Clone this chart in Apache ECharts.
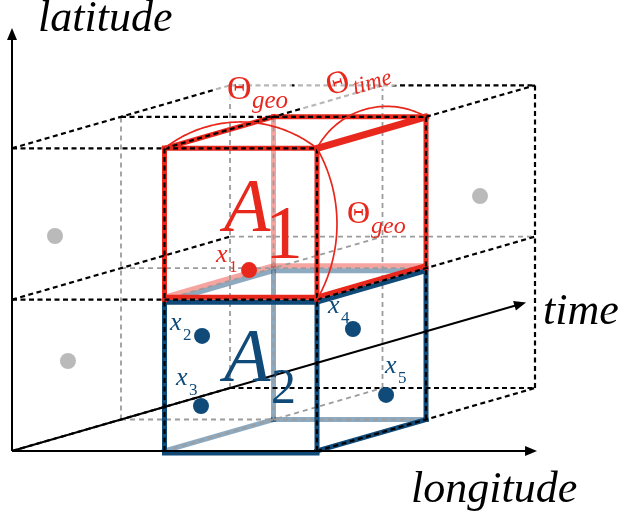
<!DOCTYPE html>
<html>
<head>
<meta charset="utf-8">
<script src="https://cdn.jsdelivr.net/npm/echarts@6/dist/echarts.min.js"></script>
<style>
html,body{margin:0;padding:0;background:#fff;}
#chart{width:621px;height:524px;}
</style>
</head>
<body>
<div id="chart"></div>
<script>
// ---------------- DATA (lattice units: [longitude, latitude, time]) ----------------
const outerDashedEdges = [
  [[0,2,0],[1,2,0]], [[1,2,0],[2,2,0]],
  [[0,1,0],[1,1,0]], [[1,1,0],[2,1,0]],
  [[1,0,0],[1,2,0]], [[2,0,0],[2,2,0]],
  [[0,2,1],[2,2,1]], [[2,0,1],[2,2,1]],
  [[0,2,2],[2,2,2]], [[0,0,2],[2,0,2]], [[2,0,2],[2,2,2]],
  [[0,2,0],[0,2,2]], [[0,1,0],[0,1,2]], [[0,0,0],[0,0,2]],
  [[1,2,0],[1,2,2]], [[2,2,1],[2,2,2]],
  [[2,1,0],[2,1,2]], [[2,0,0],[2,0,2]]
];
const innerDashedEdges = [
  [[0,0,1],[0,2,1]], [[1,0,1],[1,2,1]], [[0,0,2],[0,2,2]], [[1,0,2],[1,2,2]],
  [[0,1,1],[2,1,1]], [[0,0,1],[2,0,1]], [[0,1,2],[2,1,2]],
  [[1,1,0],[1,1,2]], [[1,0,0],[1,0,2]]
];
// cell A1
const a1VisibleEdges = [
  [[1,2,0],[2,2,0]], [[1,1,0],[1,2,0]], [[2,1,0],[2,2,0]],
  [[1,2,0],[1,2,1]], [[1,2,1],[2,2,1]], [[2,1,1],[2,2,1]]
];
const a1RidgeEdges = [[[2,2,0],[2,2,1]]];
const a1HiddenEdges = [[[1,1,1],[1,2,1]]];
// cell A2
const a2VisibleEdges = [
  [[1,0,0],[1,1,0]], [[2,0,0],[2,1,0]], [[2,0,1],[2,1,1]], [[2,0,0],[2,0,1]]
];
const a2BaseEdges = [[[1,0,0],[2,0,0]]];
const a2HiddenEdges = [[[1,0,1],[1,1,1]], [[1,0,0],[1,0,1]], [[1,0,1],[2,0,1]]];
// face shared by A1 and A2
const sharedVisibleEdges = [[[1,1,0],[2,1,0]], [[2,1,0],[2,1,1]]];
const sharedHiddenEdges = [[[1,1,0],[1,1,1]], [[1,1,1],[2,1,1]]];

const samplesA1 = [[1.340,1.133,0.30]];
const samplesA2 = [[1.139,0.729,0.15],[1.132,0.266,0.15],[1.807,0.681,0.60],[1.881,0.204,0.80]];
const samplesOther = [[0.139,1.379,0.20],[0.224,0.553,0.20],[1.711,1.289,1.90]];
const sampleNames = ['x1','x2','x3','x4','x5'];

const axisOrigin = [0,0,0];
const axisTips = [[0,2.795,0],[3.443,0,0],[0,0,4.716]];
const axisNames = ['latitude','longitude','time'];

const angleArcs = [
  [[1,2,0],[1.505,2.174,0],[2,2,0]],
  [[2,2,0],[2.393,2.273,0],[2,2,1]],
  [[2,2,0],[2.131,1.506,0],[2,1,0]]
];
const angleNames = ['geo','time','geo'];
const cellNames = ['A1','A2'];

// ---------------- LAYOUT / STYLE ----------------
const UNIT_X = 152.5, UNIT_Y = 151.35, DEPTH_X = 109, DEPTH_Y = 31.5;
const ORIGIN_X = 12, ORIGIN_Y = 451, W = 621, H = 524;
const KX = DEPTH_X / UNIT_X, KY = DEPTH_Y / UNIT_Y;
function proj(p){ return [p[0] + p[2]*KX, p[1] + p[2]*KY]; }

const RED = '#e8271d', BLUE = '#0f4a79';
const LIGHT_RED = 'rgba(232,39,29,0.42)', LIGHT_BLUE = 'rgba(15,74,121,0.47)';
const GRAY_DASH = '#9c9c9c', GRAY_DOT = '#bababa';
const SERIF = '"Liberation Serif", serif';

function edgeSeries(id, edges, style, offsetPx, z){
  return {
    type:'custom', id:id, z:z, silent:true, animation:false, clip:false,
    coordinateSystem:'cartesian2d',
    data: edges.map(e => proj(e[0]).concat(proj(e[1]))),
    encode:{x:[0,2], y:[1,3]},
    renderItem:function(params, api){
      const a = api.coord([api.value(0), api.value(1)]);
      const b = api.coord([api.value(2), api.value(3)]);
      return {type:'line', shape:{x1:a[0], y1:a[1]+offsetPx, x2:b[0], y2:b[1]+offsetPx},
              style:Object.assign({fill:null}, style)};
    }
  };
}

function arcPoints(p1, pm, p2, n){
  const ax=p1[0], ay=p1[1], bx=pm[0], by=pm[1], cx=p2[0], cy=p2[1];
  const d = 2*(ax*(by-cy) + bx*(cy-ay) + cx*(ay-by));
  const ux = ((ax*ax+ay*ay)*(by-cy) + (bx*bx+by*by)*(cy-ay) + (cx*cx+cy*cy)*(ay-by))/d;
  const uy = ((ax*ax+ay*ay)*(cx-bx) + (bx*bx+by*by)*(ax-cx) + (cx*cx+cy*cy)*(bx-ax))/d;
  const r = Math.hypot(ax-ux, ay-uy);
  const norm = a => { a = a % (2*Math.PI); return a < 0 ? a + 2*Math.PI : a; };
  const t1 = Math.atan2(ay-uy, ax-ux), tm = Math.atan2(by-uy, bx-ux), t2 = Math.atan2(cy-uy, cx-ux);
  const d12 = norm(t2-t1), d1m = norm(tm-t1);
  const sweep = d1m <= d12 ? d12 : d12 - 2*Math.PI;
  const pts = [];
  for (let i=0;i<=n;i++){ const t = t1 + sweep*i/n; pts.push([ux + r*Math.cos(t), uy + r*Math.sin(t)]); }
  return pts;
}

const blackDash = {stroke:'#000', lineWidth:2.2, lineDash:[5,3.5], lineCap:'butt'};
const grayDash = {stroke:GRAY_DASH, lineWidth:1.8, lineDash:[5,4], lineCap:'butt'};

const series = [
  edgeSeries('a2hidden', a2HiddenEdges, {stroke:LIGHT_BLUE, lineWidth:5, lineCap:'square'}, 0, 1),
  edgeSeries('a2hiddenShared', sharedHiddenEdges, {stroke:LIGHT_BLUE, lineWidth:5, lineCap:'butt'}, 2.5, 1),
  edgeSeries('a1hidden', a1HiddenEdges, {stroke:LIGHT_RED, lineWidth:5, lineCap:'butt'}, 0, 1),
  edgeSeries('a1hiddenShared', sharedHiddenEdges, {stroke:LIGHT_RED, lineWidth:5, lineCap:'butt'}, -2.5, 1),
  edgeSeries('inner', innerDashedEdges, grayDash, 0, 2),
  edgeSeries('a2base', a2BaseEdges, {stroke:BLUE, lineWidth:5, lineCap:'square'}, 2, 3),
  edgeSeries('a2vis', a2VisibleEdges, {stroke:BLUE, lineWidth:5, lineCap:'square'}, 0, 3),
  edgeSeries('a2shared', sharedVisibleEdges, {stroke:BLUE, lineWidth:5, lineCap:'butt'}, 2.5, 3),
  edgeSeries('a1vis', a1VisibleEdges, {stroke:RED, lineWidth:5, lineCap:'square'}, 0, 4),
  edgeSeries('a1shared', sharedVisibleEdges, {stroke:RED, lineWidth:5, lineCap:'butt'}, -2.5, 4),
  edgeSeries('a1ridge', a1RidgeEdges, {stroke:RED, lineWidth:7, lineCap:'round'}, 0, 4),
  edgeSeries('outer', outerDashedEdges, blackDash, 0, 5),
  {
    type:'custom', id:'axes', z:6, silent:true, animation:false, clip:false,
    data: axisTips.map(t => proj(axisOrigin).concat(proj(t))),
    encode:{x:[0,2], y:[1,3]},
    renderItem:function(params, api){
      const a = api.coord([api.value(0), api.value(1)]);
      const b = api.coord([api.value(2), api.value(3)]);
      const dx = b[0]-a[0], dy = b[1]-a[1], L = Math.hypot(dx,dy), ux = dx/L, uy = dy/L;
      const hl = 12, hw = 5;
      const bx = b[0]-ux*hl, by = b[1]-uy*hl;
      return {type:'group', children:[
        {type:'line', shape:{x1:a[0], y1:a[1], x2:bx+ux*2, y2:by+uy*2}, style:{stroke:'#000', lineWidth:2}},
        {type:'polygon', shape:{points:[[b[0],b[1]],[bx-uy*hw, by+ux*hw],[bx+uy*hw, by-ux*hw]]}, style:{fill:'#000'}}
      ]};
    }
  },
  {
    type:'custom', id:'arcs', z:7, silent:true, animation:false, clip:false,
    data: angleArcs.map(a => proj(a[0]).concat(proj(a[1]), proj(a[2]))),
    encode:{x:[0,2,4], y:[1,3,5]},
    renderItem:function(params, api){
      const p1 = api.coord([api.value(0), api.value(1)]);
      const pm = api.coord([api.value(2), api.value(3)]);
      const p2 = api.coord([api.value(4), api.value(5)]);
      return {type:'polyline', shape:{points:arcPoints(p1,pm,p2,60)}, style:{stroke:RED, lineWidth:1.7, fill:null}};
    }
  },
  {type:'scatter', id:'other', z:8, silent:true, animation:false, symbol:'circle', symbolSize:16,
   itemStyle:{color:GRAY_DOT, opacity:1}, data: samplesOther.map(proj)},
  {type:'scatter', id:'sA2', z:8, silent:true, animation:false, symbol:'circle', symbolSize:16,
   itemStyle:{color:BLUE, opacity:1}, data: samplesA2.map(proj)},
  {type:'scatter', id:'sA1', z:8, silent:true, animation:false, symbol:'circle', symbolSize:16,
   itemStyle:{color:RED, opacity:1}, data: samplesA1.map(proj)}
];

// ---------------- TEXT ----------------
function T(text, left, baseline, size, color, italic){
  return {type:'text', x:left, y:baseline - 0.34*size, z:100, silent:true,
    style:{text:text, fill:color, font:(italic ? 'italic ' : '') + size + 'px ' + SERIF,
           verticalAlign:'middle', align:'left', lineHeight:size}};
}
const sampleColors = [RED, BLUE, BLUE, BLUE, BLUE];
const sampleLabelPos = [[216,264],[170,332],[176,387],[328,315],[385,375]];
const graphics = [
  T(axisNames[0], 38, 34, 44, '#000', true),
  T(axisNames[1], 411, 505, 44, '#000', true),
  T(axisNames[2], 543, 327, 44, '#000', true),
  T(cellNames[0][0], 224, 237, 76, RED, true),
  T(cellNames[0].slice(1), 265, 264, 76, RED, false),
  T(cellNames[1][0], 224, 387, 76, BLUE, true),
  T(cellNames[1].slice(1), 271, 407, 50, BLUE, false),
  {type:'rect', z:50, silent:true, shape:{x:216, y:72, width:76, height:28}, style:{fill:'rgba(255,255,255,0.72)'}},
  T('Θ', 227, 102, 34, RED, false),
  T(angleNames[0], 252, 110, 25, RED, true),
  {type:'group', x:330, y:98, rotation:0.28, z:100, silent:true, children:[
    {type:'rect', z:50, shape:{x:-30, y:-28, width:98, height:34}, style:{fill:'rgba(255,255,255,0.72)'}},
    {type:'text', z:100, x:0, y:-0.34*32, style:{text:'Θ', fill:RED, font:'32px ' + SERIF, verticalAlign:'middle', align:'left', lineHeight:32}},
    {type:'text', z:100, x:25, y:5-0.34*23, style:{text:angleNames[1], fill:RED, font:'italic 23px ' + SERIF, verticalAlign:'middle', align:'left', lineHeight:23}}
  ]},
  T('Θ', 347, 225, 32, RED, false),
  T(angleNames[2], 371, 235, 24, RED, true)
];
sampleNames.forEach((n, i) => {
  const p = sampleLabelPos[i];
  graphics.push(T(n[0], p[0], p[1], 26, sampleColors[i], true));
  graphics.push(T(n.slice(1), p[0]+13, p[1]+9, 17, sampleColors[i], false));
});

const chart = echarts.init(document.getElementById('chart'), null, {renderer:'canvas'});
chart.setOption({
  backgroundColor:'#ffffff',
  animation:false,
  grid:{left:0, right:0, top:0, bottom:0, containLabel:false},
  xAxis:{type:'value', min:-ORIGIN_X/UNIT_X, max:(W-ORIGIN_X)/UNIT_X, show:false},
  yAxis:{type:'value', min:(ORIGIN_Y-H)/UNIT_Y, max:ORIGIN_Y/UNIT_Y, show:false},
  series: series,
  graphic: graphics
});
</script>
</body>
</html>
